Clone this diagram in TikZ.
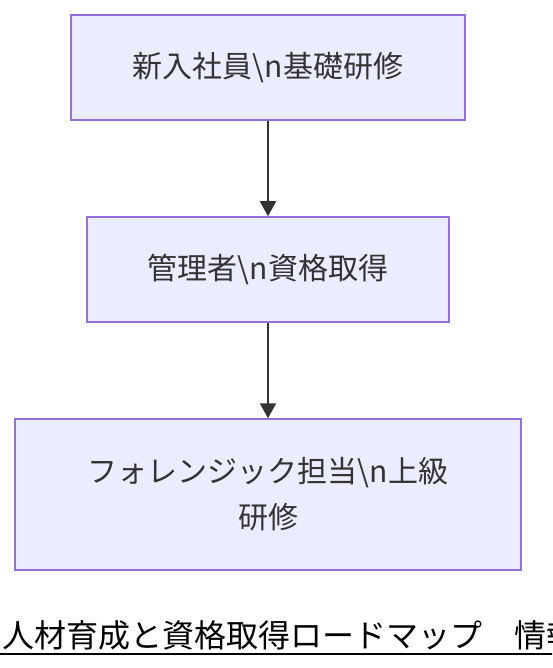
\documentclass[tikz,border=0pt]{standalone}
\usepackage{fontspec}
\setmainfont{Noto Sans CJK JP}
\usepackage{tikz}
\usetikzlibrary{arrows.meta,positioning}
\definecolor{myfill}{RGB}{236,236,255}
\definecolor{myborder}{RGB}{147,112,219}
\definecolor{mytext}{RGB}{51,51,51}

\begin{document}
\begin{tikzpicture}[
  x=1pt, y=-1pt,
  mybox/.style={
    draw=myborder,
    fill=myfill,
    line width=1.5pt,
    rectangle,
    inner sep=0pt,
    text=mytext,
    font=\fontsize{30}{46}\selectfont,
    align=center
    },
  myarrow/.style={
    draw=mytext,
    line width=2pt,
    -{Triangle[width=16pt,length=15pt]}
  }
]
\useasboundingbox (0,0) rectangle (552,668);
\clip (0,0) rectangle (552,668);

\node[mybox, minimum width=394pt, minimum height=105pt] (newhire) at (268,67.5)
  {新入社員\textbackslash n基礎研修};
\node[mybox, minimum width=362pt, minimum height=105pt] (manager) at (268,269.5)
  {管理者\textbackslash n資格取得};
\node[mybox, minimum width=506pt, minimum height=151pt] (forensic) at (268,494.5)
  {フォレンジック担当\textbackslash n上級\\研修};

\draw[myarrow] (newhire) -- (manager);
\draw[myarrow] (manager) -- (forensic);

\node[anchor=base west, inner sep=0pt, text=black, font=\fontsize{32}{38}\selectfont]
  (title) at (2,647) {人材育成と資格取得ロードマップ　情報};
\draw[line width=2pt] (0,654) -- (title.east |- 0,654);

\end{tikzpicture}
\end{document}
